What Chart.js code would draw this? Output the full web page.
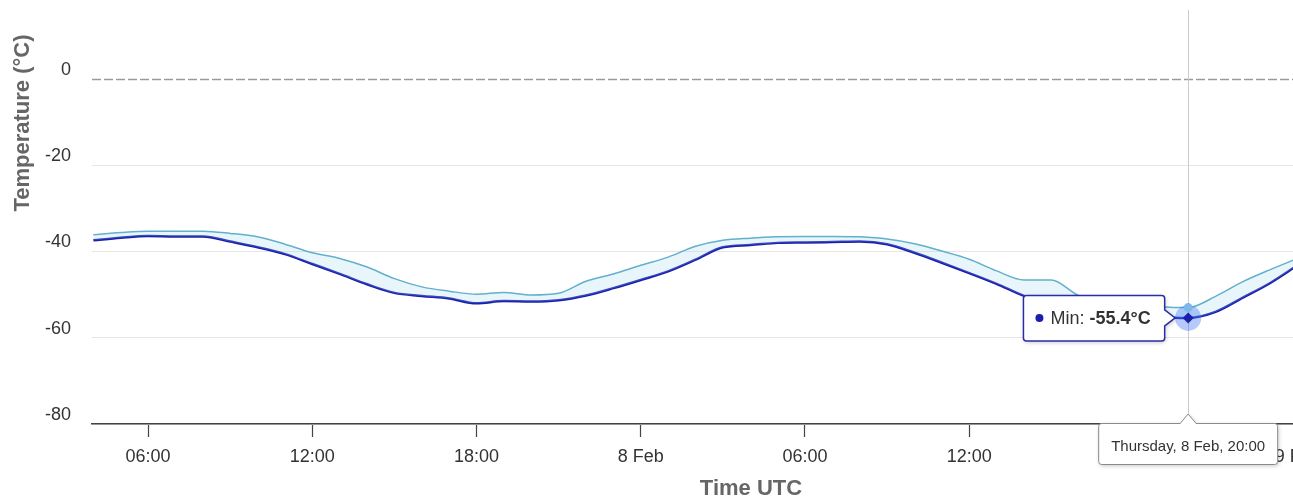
<!DOCTYPE html>
<html>
<head>
<meta charset="utf-8">
<script src="https://cdn.jsdelivr.net/npm/chart.js@4/dist/chart.umd.min.js"></script>
<style>
  html, body { margin: 0; padding: 0; background: #fff; overflow: hidden; }
  #wrap { width: 1293px; height: 503px; overflow: hidden; position: relative; }
  canvas { display: block; }
</style>
</head>
<body>
<div id="wrap"><canvas id="c" width="1410" height="503" style="width:1410px;height:503px"></canvas></div>
<script>
// Hours since 7 Feb 00:00 UTC
const hours = [4,5,6,7,8,9,10,11,12,13,14,15,16,17,18,19,20,21,22,23,24,25,26,27,28,29,30,31,32,33,34,35,36,37,38,39,40,41,42,43,44,45,46,47,48];
const minTemps = [-37.4,-36.8,-36.4,-36.5,-36.5,-37.7,-39.0,-40.6,-42.9,-45.2,-47.6,-49.6,-50.3,-50.9,-52.0,-51.5,-51.6,-51.3,-50.2,-48.5,-46.6,-44.6,-41.9,-39.0,-38.5,-38.0,-37.9,-37.8,-37.7,-38.3,-40.3,-42.6,-45.0,-47.5,-50.3,-52.2,-53.5,-54.3,-55.0,-55.2,-55.4,-54.0,-50.7,-47.3,-43.2];
const maxTemps = [-36.1,-35.6,-35.3,-35.3,-35.3,-35.8,-36.6,-38.3,-40.3,-41.6,-43.6,-46.3,-48.2,-49.2,-49.9,-49.5,-50.1,-49.7,-46.9,-45.2,-43.2,-41.3,-38.8,-37.4,-36.9,-36.6,-36.5,-36.5,-36.6,-37.1,-38.2,-39.9,-41.8,-44.5,-46.6,-46.6,-50.2,-51.3,-52.1,-52.8,-53.0,-50.4,-47.0,-44.2,-41.6];
const tickHours = [6,12,18,24,30,36,42,48];
const tickLabels = ['06:00','12:00','18:00','8 Feb','06:00','12:00','18:00','9 Feb'];
const yTicks = [-80,-60,-40,-20,0];
const hoverHour = 44;
const weekdayNames = ['Sunday','Monday','Tuesday','Wednesday','Thursday','Friday','Saturday'];
const monthNames = ['Jan','Feb','Mar','Apr','May','Jun','Jul','Aug','Sep','Oct','Nov','Dec'];
const startDateUTC = Date.UTC(2018, 1, 7);

const FONT = '"Liberation Sans", Arial, Helvetica, sans-serif';
Chart.defaults.font.family = FONT;

const MIN_COLOR = '#1c1eac';
const MAX_COLOR = '#62b0cc';

function roundRectPath(ctx, l, t, r, b, rad) {
  ctx.moveTo(l + rad, t);
  ctx.lineTo(r - rad, t);
  ctx.quadraticCurveTo(r, t, r, t + rad);
  ctx.lineTo(r, b - rad);
  ctx.quadraticCurveTo(r, b, r - rad, b);
  ctx.lineTo(l + rad, b);
  ctx.quadraticCurveTo(l, b, l, b - rad);
  ctx.lineTo(l, t + rad);
  ctx.quadraticCurveTo(l, t, l + rad, t);
}

const decorPlugin = {
  id: 'decor',
  beforeDatasetsDraw(chart) {
    const {ctx, chartArea, scales: {x, y}} = chart;
    ctx.save();
    // zero plot line (dashed)
    const y0 = Math.round(y.getPixelForValue(0)) + 0.5;
    ctx.strokeStyle = '#9a9a9a';
    ctx.lineWidth = 1.6;
    ctx.setLineDash([9, 3]);
    ctx.beginPath();
    ctx.moveTo(chartArea.left, y0);
    ctx.lineTo(chartArea.right, y0);
    ctx.stroke();
    ctx.setLineDash([]);
    // crosshair
    const px = Math.round(x.getPixelForValue(hoverHour)) + 0.5;
    ctx.strokeStyle = '#cccccc';
    ctx.lineWidth = 1;
    ctx.beginPath();
    ctx.moveTo(px, chartArea.top);
    ctx.lineTo(px, chartArea.bottom);
    ctx.stroke();
    ctx.restore();
  },
  afterDraw(chart) {
    const {ctx, chartArea, scales: {x, y}} = chart;
    const i = hours.indexOf(hoverHour);
    const px = x.getPixelForValue(hours[i]);
    const pyMin = y.getPixelForValue(minTemps[i]);
    const pyMax = y.getPixelForValue(maxTemps[i]);
    ctx.save();
    // Y axis title
    ctx.save();
    ctx.translate(22.5, 123);
    ctx.rotate(-Math.PI / 2);
    ctx.font = 'bold 22px ' + FONT;
    ctx.fillStyle = '#666666';
    ctx.textAlign = 'center';
    ctx.textBaseline = 'middle';
    ctx.fillText('Temperature (°C)', 0, 0);
    ctx.restore();

    // halo + markers
    ctx.fillStyle = 'rgba(60,115,245,0.38)';
    ctx.beginPath();
    ctx.arc(px, pyMin, 13, 0, Math.PI * 2);
    ctx.fill();
    ctx.fillStyle = '#7cb8e8';
    ctx.beginPath();
    ctx.arc(px, pyMax, 4.5, 0, Math.PI * 2);
    ctx.fill();
    ctx.fillStyle = MIN_COLOR;
    ctx.beginPath();
    ctx.moveTo(px, pyMin - 5.5);
    ctx.lineTo(px + 5.5, pyMin);
    ctx.lineTo(px, pyMin + 5.5);
    ctx.lineTo(px - 5.5, pyMin);
    ctx.closePath();
    ctx.fill();

    // Min tooltip (series box)
    const label1 = 'Min: ';
    const label2 = minTemps[i].toFixed(1) + '°C';
    ctx.font = '18px ' + FONT;
    const w1 = ctx.measureText(label1).width;
    ctx.font = 'bold 18px ' + FONT;
    const w2 = ctx.measureText(label2).width;
    const bRight = px - 23.5;
    const bLeft = bRight - (27 + w1 + w2 + 14);
    const bTop = pyMin - 22.5;
    const bBot = pyMin + 23;
    const tip = px - 13;
    ctx.save();
    ctx.shadowColor = 'rgba(0,0,0,0.22)';
    ctx.shadowOffsetX = 1;
    ctx.shadowOffsetY = 1.5;
    ctx.shadowBlur = 4;
    ctx.fillStyle = '#ffffff';
    ctx.beginPath();
    const r = 3;
    ctx.moveTo(bLeft + r, bTop);
    ctx.lineTo(bRight - r, bTop);
    ctx.quadraticCurveTo(bRight, bTop, bRight, bTop + r);
    ctx.lineTo(bRight, pyMin - 8);
    ctx.lineTo(tip, pyMin);
    ctx.lineTo(bRight, pyMin + 8);
    ctx.lineTo(bRight, bBot - r);
    ctx.quadraticCurveTo(bRight, bBot, bRight - r, bBot);
    ctx.lineTo(bLeft + r, bBot);
    ctx.quadraticCurveTo(bLeft, bBot, bLeft, bBot - r);
    ctx.lineTo(bLeft, bTop + r);
    ctx.quadraticCurveTo(bLeft, bTop, bLeft + r, bTop);
    ctx.closePath();
    ctx.fill();
    ctx.restore();
    ctx.strokeStyle = '#2a2ca8';
    ctx.lineWidth = 1.5;
    ctx.stroke();
    ctx.fillStyle = MIN_COLOR;
    ctx.beginPath();
    ctx.arc(bLeft + 16, pyMin, 4, 0, Math.PI * 2);
    ctx.fill();
    ctx.fillStyle = '#333333';
    ctx.textBaseline = 'middle';
    ctx.textAlign = 'left';
    ctx.font = '18px ' + FONT;
    ctx.fillText(label1, bLeft + 27, pyMin + 1);
    ctx.font = 'bold 18px ' + FONT;
    ctx.fillText(label2, bLeft + 27 + w1, pyMin + 1);

    // Header tooltip on x axis
    const d = new Date(startDateUTC + hours[i] * 3600e3);
    const hh = String(d.getUTCHours()).padStart(2, '0');
    const mm = String(d.getUTCMinutes()).padStart(2, '0');
    const head = weekdayNames[d.getUTCDay()] + ', ' + d.getUTCDate() + ' ' + monthNames[d.getUTCMonth()] + ', ' + hh + ':' + mm;
    ctx.font = '15px ' + FONT;
    const hw = ctx.measureText(head).width;
    const hLeft = px - (hw + 25) / 2;
    const hRight = px + (hw + 25) / 2;
    const hTop = chartArea.bottom - 0.5;
    const hBot = hTop + 41;
    const hTip = chartArea.bottom - 10;
    ctx.save();
    ctx.shadowColor = 'rgba(0,0,0,0.22)';
    ctx.shadowOffsetX = 1;
    ctx.shadowOffsetY = 1.5;
    ctx.shadowBlur = 4;
    ctx.fillStyle = '#ffffff';
    ctx.beginPath();
    ctx.moveTo(hLeft + r, hTop);
    ctx.lineTo(px - 8, hTop);
    ctx.lineTo(px, hTip);
    ctx.lineTo(px + 8, hTop);
    ctx.lineTo(hRight - r, hTop);
    ctx.quadraticCurveTo(hRight, hTop, hRight, hTop + r);
    ctx.lineTo(hRight, hBot - r);
    ctx.quadraticCurveTo(hRight, hBot, hRight - r, hBot);
    ctx.lineTo(hLeft + r, hBot);
    ctx.quadraticCurveTo(hLeft, hBot, hLeft, hBot - r);
    ctx.lineTo(hLeft, hTop + r);
    ctx.quadraticCurveTo(hLeft, hTop, hLeft + r, hTop);
    ctx.closePath();
    ctx.fill();
    ctx.restore();
    ctx.strokeStyle = '#8a8a8a';
    ctx.lineWidth = 1;
    ctx.stroke();
    ctx.fillStyle = '#333333';
    ctx.textAlign = 'center';
    ctx.textBaseline = 'middle';
    ctx.fillText(head, px, hTop + 23);
    ctx.restore();
  }
};

new Chart(document.getElementById('c'), {
  type: 'line',
  data: {
    datasets: [
      {
        label: 'Max',
        data: hours.map((h, k) => ({x: h, y: maxTemps[k]})),
        borderColor: MAX_COLOR,
        borderWidth: 1.5,
        backgroundColor: 'rgba(150, 212, 240, 0.22)',
        fill: '+1',
        pointRadius: 0,
        cubicInterpolationMode: 'monotone'
      },
      {
        label: 'Min',
        data: hours.map((h, k) => ({x: h, y: minTemps[k]})),
        borderColor: MIN_COLOR,
        borderWidth: 2.5,
        fill: false,
        pointRadius: 0,
        cubicInterpolationMode: 'monotone'
      }
    ]
  },
  options: {
    responsive: false,
    animation: false,
    events: [],
    layout: { padding: { top: 10, left: 0, right: 0, bottom: 0 } },
    plugins: { legend: { display: false }, tooltip: { enabled: false } },
    scales: {
      x: {
        type: 'linear',
        min: 3.95,
        max: 3.95 + (1410 - 92) / 27.37,
        afterFit: (s) => { s.height = 79; s.paddingLeft = 0; s.paddingRight = 0; },
        afterBuildTicks: (s) => { s.ticks = tickHours.filter(h => h >= s.min && h <= s.max).map(v => ({value: v})); },
        ticks: {
          autoSkip: false,
          maxRotation: 0,
          padding: 9,
          color: '#333333',
          font: { size: 18 },
          callback: (v) => { const k = tickHours.indexOf(v); return k >= 0 ? tickLabels[k] : ''; }
        },
        grid: { drawOnChartArea: false, drawTicks: true, tickLength: 13, tickColor: '#444444', tickWidth: 1.2 },
        border: { display: true, color: '#444444', width: 1.5 },
        title: { display: true, text: 'Time UTC', color: '#666666', font: { size: 22, weight: 'bold' }, padding: { top: 0, bottom: 1 } }
      },
      y: {
        type: 'linear',
        min: -80,
        max: 16,
        afterFit: (s) => { s.width = 92; s.paddingTop = 0; s.paddingBottom = 0; },
        afterBuildTicks: (s) => { s.ticks = yTicks.map(v => ({value: v})); },
        ticks: {
          padding: 21,
          labelOffset: -9,
          color: '#333333',
          font: { size: 18 },
          callback: (v) => String(v)
        },
        grid: { color: (c) => (c.tick && c.tick.value === 0) ? 'rgba(0,0,0,0)' : '#e6e6e6', lineWidth: 1, drawTicks: false },
        border: { display: false },
        title: { display: false }
      }
    }
  },
  plugins: [decorPlugin]
});
</script>
</body>
</html>
